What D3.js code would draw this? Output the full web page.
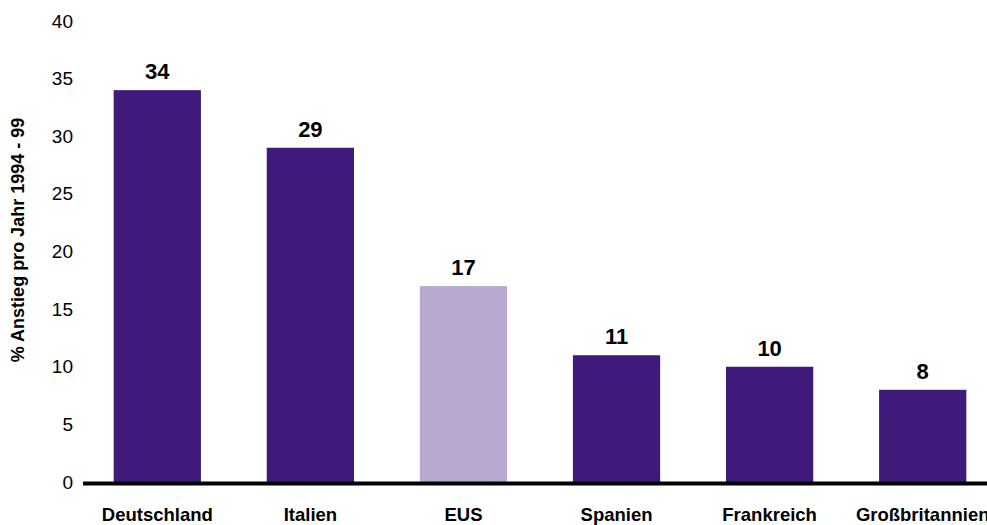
<!DOCTYPE html>
<html>
<head>
<meta charset="utf-8">
<script src="https://cdn.jsdelivr.net/npm/d3@7"></script>
<style>
  html, body { margin: 0; padding: 0; background: #fff; }
  svg { display: block; font-family: "Liberation Sans", Arial, sans-serif; }
</style>
</head>
<body>
<svg id="chart" width="987" height="525"></svg>
<script>
// Jährlicher Anstieg in Prozent, 1994–99
const categories = ["Deutschland", "Italien", "EUS", "Spanien", "Frankreich", "Großbritannien"];
const values = [34, 29, 17, 11, 10, 8];
const highlighted = ["EUS"];
const yTicks = [0, 5, 10, 15, 20, 25, 30, 35, 40];
const yTitle = "% Anstieg pro Jahr 1994 - 99";

const svg = d3.select("#chart");
const data = categories.map((c, i) => ({ name: c, value: values[i] }));

const x = d3.scaleBand()
  .domain(categories)
  .range([80, 1000])
  .paddingInner(0.43)
  .paddingOuter(0.22);

const y = d3.scaleLinear()
  .domain([0, 40])
  .range([482, 21]);

// Y-Achse: nur Beschriftungen, keine Linie
const yAxis = svg.append("g")
  .attr("transform", "translate(73,0)")
  .call(d3.axisLeft(y).tickValues(yTicks).tickSize(0).tickPadding(0));
yAxis.select(".domain").remove();
yAxis.selectAll("text")
  .attr("font-size", 19)
  .attr("fill", "#000")
  .attr("font-family", "Liberation Sans, Arial, sans-serif");

// Balken
svg.append("g").selectAll("rect")
  .data(data)
  .join("rect")
  .attr("x", d => x(d.name))
  .attr("width", x.bandwidth())
  .attr("y", d => y(d.value))
  .attr("height", d => y(0) - y(d.value))
  .attr("fill", d => highlighted.includes(d.name) ? "#b8a9d0" : "#3f1a7a");

// Wertbeschriftungen
svg.append("g").selectAll("text")
  .data(data)
  .join("text")
  .attr("x", d => x(d.name) + x.bandwidth() / 2)
  .attr("y", d => y(d.value) - 11)
  .attr("text-anchor", "middle")
  .attr("font-size", 22)
  .attr("font-weight", "bold")
  .attr("fill", "#000")
  .text(d => d.value);

// X-Achse: dicke Grundlinie und Kategorien
const xAxis = svg.append("g")
  .attr("transform", `translate(0,${y(0)})`)
  .call(d3.axisBottom(x).tickSize(0).tickPadding(26));
xAxis.select(".domain").remove();
xAxis.selectAll("text")
  .attr("font-size", 18.5)
  .attr("font-weight", "bold")
  .attr("fill", "#000")
  .attr("font-family", "Liberation Sans, Arial, sans-serif");

svg.append("line")
  .attr("x1", 83).attr("x2", 987)
  .attr("y1", y(0) + 1.5).attr("y2", y(0) + 1.5)
  .attr("stroke", "#000")
  .attr("stroke-width", 4);

// Titel der Y-Achse
svg.append("text")
  .attr("transform", "translate(24,240) rotate(-90)")
  .attr("text-anchor", "middle")
  .attr("font-size", 18)
  .attr("font-weight", "bold")
  .attr("fill", "#000")
  .text(yTitle);
</script>
</body>
</html>
